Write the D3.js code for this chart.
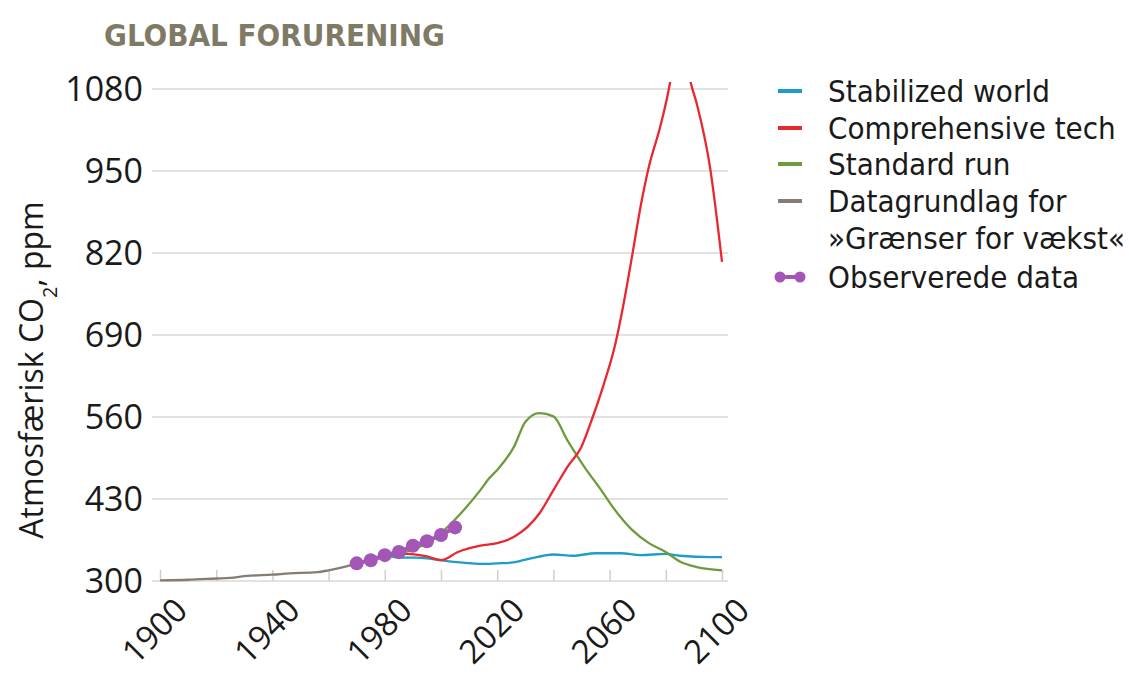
<!DOCTYPE html>
<html>
<head>
<meta charset="utf-8">
<script src="https://cdn.jsdelivr.net/npm/d3@7"></script>
<style>
  body { margin: 0; background: #fff; }
  svg { display: block; }
</style>
</head>
<body>
<svg id="chart_svg"></svg>
<script>
// values
var yTicks = [300, 430, 560, 690, 820, 950, 1080];
var xTicks = [1900, 1920, 1940, 1960, 1980, 2000, 2020, 2040, 2060, 2080, 2100];
var xLabels = [1900, 1940, 1980, 2020, 2060, 2100];

var grayYears = [1900, 1910, 1920, 1925, 1931, 1940, 1946, 1956, 1960, 1967, 1970];
var grayValues = [301, 302, 304, 305, 308, 310, 312, 314, 317, 324, 328];

var blueYears = [1970, 1975, 1980, 1985, 1991, 1995, 2000, 2003, 2008, 2014, 2020, 2025, 2032, 2040, 2047, 2055, 2064, 2071, 2080, 2085, 2096, 2100];
var blueValues = [328, 334, 340, 337, 337, 336, 333, 331, 329, 327, 328, 329, 336, 342, 340, 344, 344, 341, 343, 340, 338, 338];

var redYears = [1970, 1975, 1980, 1988, 1995, 2000, 2006, 2014, 2020, 2026, 2035, 2040, 2045, 2050, 2054, 2058, 2062, 2065, 2068, 2071, 2074, 2078, 2081.5, 2085, 2088.9, 2091, 2095.7, 2100];
var redValues = [328, 334, 340, 343, 339, 333, 346, 356, 360, 370, 407, 444, 481, 513, 560, 613, 675, 740, 815, 893, 957, 1020, 1090, 1200, 1090, 1057, 957, 806];

var greenYears = [1970, 1980, 1990, 1995, 2000, 2007, 2014, 2017, 2020, 2026, 2030, 2035, 2040, 2045, 2051, 2057, 2061, 2068, 2074, 2080, 2085, 2091, 2100];
var greenValues = [328, 338, 350, 360, 376, 407, 444, 462, 476, 513, 552, 566, 561, 523, 481, 444, 418, 381, 360, 346, 331, 322, 317];

var obsYears = [1970, 1975, 1980, 1985, 1990, 1995, 2000, 2005];
var obsValues = [328, 333, 341, 346, 356, 363, 373, 385];

var legendNames = ["Stabilized world", "Comprehensive tech", "Standard run", "Datagrundlag for", "»Grænser for vækst«", "Observerede data"];

var colors = {
  blue: "#1f9cc8",
  red: "#e8272e",
  green: "#6e9b3c",
  gray: "#857d74",
  purple: "#a456b6"
};

function zip(xs, ys) {
  return xs.map(function (x, i) { return { year: x, value: ys[i] }; });
}

function draw_chart() {
  var svgWidth = 1129, svgHeight = 675;
  var svg = d3.select("#chart_svg")
    .attr("width", svgWidth)
    .attr("height", svgHeight);

  var xScale = d3.scaleLinear().domain([1900, 2100]).range([160, 722]);
  var yScale = d3.scaleLinear().domain([300, 1080]).range([581, 89]);

  var numFont = "'Open Sans', sans-serif";
  var legendFont = "'DejaVu Sans Condensed', 'DejaVu Sans', sans-serif";

  // title
  svg.append("text")
    .attr("x", 104)
    .attr("y", 46)
    .style("font-family", legendFont)
    .style("font-weight", "bold")
    .style("font-size", "31px")
    .style("fill", "#7f7a66")
    .text("GLOBAL FORURENING");

  // grid lines
  svg.append("g")
    .selectAll("line")
    .data(yTicks)
    .join("line")
    .attr("x1", 152)
    .attr("x2", 728)
    .attr("y1", function (d) { return yScale(d); })
    .attr("y2", function (d) { return yScale(d); })
    .attr("stroke", "#d8d8d8")
    .attr("stroke-width", 1.5);

  // y labels
  svg.append("g")
    .selectAll("text")
    .data(yTicks)
    .join("text")
    .attr("x", 143)
    .attr("y", function (d) { return yScale(d); })
    .attr("dy", "0.36em")
    .attr("text-anchor", "end")
    .style("font-family", numFont)
    .style("font-size", "34px")
    .style("fill", "#1a1a1a")
    .text(function (d) { return d; });

  // x axis ticks (pointing up)
  var xAxis = svg.append("g")
    .attr("transform", "translate(0," + yScale(300) + ")")
    .call(d3.axisBottom(xScale).tickValues(xTicks).tickSizeInner(-11).tickSizeOuter(0).tickFormat(""));
  xAxis.select(".domain").remove();
  xAxis.selectAll(".tick line").attr("stroke", "#cfcfcf").attr("stroke-width", 1.5);

  // x labels, rotated
  svg.append("g")
    .selectAll("text")
    .data(xLabels)
    .join("text")
    .attr("transform", function (d) {
      return "translate(" + (xScale(d) + 13) + ",596) rotate(-45)";
    })
    .attr("text-anchor", "end")
    .attr("dy", "0.7em")
    .style("font-family", numFont)
    .style("font-size", "33px")
    .style("fill", "#1a1a1a")
    .text(function (d) { return d; });

  // y axis title
  var yTitle = svg.append("text")
    .attr("transform", "translate(43,370) rotate(-90)")
    .attr("text-anchor", "middle")
    .style("font-family", numFont)
    .style("font-size", "32px")
    .style("fill", "#1a1a1a");
  yTitle.append("tspan").text("Atmosfærisk CO");
  yTitle.append("tspan").attr("baseline-shift", "sub").style("font-size", "20px").text("2");
  yTitle.append("tspan").text(", ppm");

  // clip for the red line running off the top
  svg.append("clipPath")
    .attr("id", "plotClip")
    .append("rect")
    .attr("x", 140)
    .attr("y", 82)
    .attr("width", 620)
    .attr("height", 520);

  var line = d3.line()
    .x(function (d) { return xScale(d.year); })
    .y(function (d) { return yScale(d.value); })
    .curve(d3.curveMonotoneX);

  var series = [
    { data: zip(grayYears, grayValues), color: colors.gray },
    { data: zip(blueYears, blueValues), color: colors.blue },
    { data: zip(greenYears, greenValues), color: colors.green },
    { data: zip(redYears, redValues), color: colors.red }
  ];

  svg.append("g")
    .attr("clip-path", "url(#plotClip)")
    .selectAll("path")
    .data(series)
    .join("path")
    .attr("d", function (d) { return line(d.data); })
    .attr("fill", "none")
    .attr("stroke", function (d) { return d.color; })
    .attr("stroke-width", 2.3)
    .attr("stroke-linejoin", "round");

  // observed data
  var obs = zip(obsYears, obsValues);
  svg.append("path")
    .datum(obs)
    .attr("d", d3.line().x(function (d) { return xScale(d.year); }).y(function (d) { return yScale(d.value); }))
    .attr("fill", "none")
    .attr("stroke", colors.purple)
    .attr("stroke-width", 4);
  svg.append("g")
    .selectAll("circle")
    .data(obs)
    .join("circle")
    .attr("cx", function (d) { return xScale(d.year); })
    .attr("cy", function (d) { return yScale(d.value); })
    .attr("r", 7)
    .attr("fill", colors.purple);

  // legend
  var legendColors = [colors.blue, colors.red, colors.green, colors.gray, null, colors.purple];
  var legendY = [91, 128, 164, 201, 238, 277];
  var legend = svg.append("g");
  legendNames.forEach(function (name, i) {
    if (legendColors[i]) {
      legend.append("line")
        .attr("x1", 778).attr("x2", 802)
        .attr("y1", legendY[i]).attr("y2", legendY[i])
        .attr("stroke", legendColors[i])
        .attr("stroke-width", 4);
    }
    if (i == 5) {
      [780, 800].forEach(function (cx) {
        legend.append("circle").attr("cx", cx).attr("cy", legendY[i]).attr("r", 5.5).attr("fill", colors.purple);
      });
    }
    legend.append("text")
      .attr("x", 828)
      .attr("y", legendY[i])
      .attr("dy", "0.36em")
      .style("font-family", legendFont)
      .style("font-size", "31px")
      .style("fill", "#1a1a1a")
      .text(name);
  });
}

draw_chart();
</script>
</body>
</html>
